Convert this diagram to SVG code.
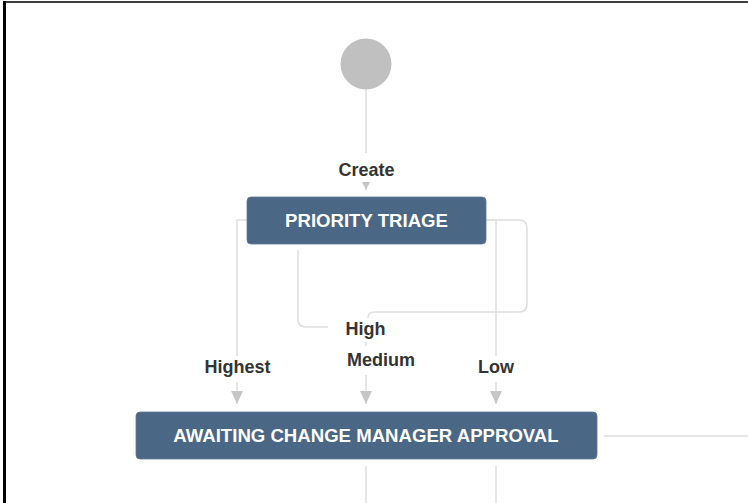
<svg xmlns="http://www.w3.org/2000/svg" width="748" height="503" viewBox="0 0 748 503">
<style>
.frame{stroke:#000;fill:none}
.box{fill:#4a6785;stroke:#5f7a96;stroke-width:0.8}
.boxtext{font-family:"Liberation Sans",Arial,sans-serif;font-weight:bold;font-size:18.6px;fill:#fff;text-anchor:middle}
.lbl{font-family:"Liberation Sans",Arial,sans-serif;font-weight:bold;font-size:18px;fill:#333;text-anchor:middle}
.edge{fill:none;stroke:#dedede;stroke-width:1.5}
</style>
<defs>
<marker id="arr" markerUnits="userSpaceOnUse" markerWidth="13" markerHeight="12" refX="12" refY="5.5" orient="auto" viewBox="0 0 12 11">
<path d="M0,0 L12,5.5 L0,11 z" fill="#c6c6c6"/>
</marker>
<marker id="arrs" markerUnits="userSpaceOnUse" markerWidth="8" markerHeight="8" refX="7" refY="3.5" orient="auto" viewBox="0 0 7 7">
<path d="M0,0 L7,3.5 L0,7 z" fill="#c6c6c6"/>
</marker>
</defs>
<rect width="748" height="503" fill="#fff"/>
<line class="frame" x1="3" y1="2" x2="748" y2="2" stroke-width="1.5"/>
<line class="frame" x1="4.5" y1="1" x2="4.5" y2="503" stroke-width="3"/>

<g id="connectors">
<line class="edge" x1="366" y1="89" x2="366" y2="153"/>
<line class="edge" x1="366" y1="183" x2="366" y2="190" marker-end="url(#arrs)"/>
<path class="edge" d="M247,220 H237 V356"/>
<line class="edge" x1="237" y1="382" x2="237" y2="404" marker-end="url(#arr)"/>
<path class="edge" d="M298,250 V319 Q298,327 306,327 H328"/>
<path class="edge" d="M486,220 H519 Q527,220 527,228 V304 Q527,312 519,312 H375 Q368,312 368,318"/>
<line class="edge" x1="366" y1="342" x2="366" y2="346"/>
<line class="edge" x1="366" y1="375" x2="366" y2="404" marker-end="url(#arr)"/>
<path class="edge" d="M486,220 H496 V356"/>
<line class="edge" x1="496" y1="382" x2="496" y2="404" marker-end="url(#arr)"/>
<line class="edge" x1="604" y1="436" x2="748" y2="436"/>
<line class="edge" x1="366" y1="466" x2="366" y2="503"/>
<line class="edge" x1="496" y1="466" x2="496" y2="503"/>
<text class="lbl" x="366.5" y="176">Create</text>
<text class="lbl" x="237.5" y="373">Highest</text>
<text class="lbl" x="365.5" y="335">High</text>
<text class="lbl" x="381" y="366">Medium</text>
<text class="lbl" x="496" y="373">Low</text>
</g>

<g id="start">
<circle cx="366" cy="64" r="25.5" fill="#c0c0c0"/>
</g>
<g id="priority-triage">
<rect class="box" x="247" y="197" width="239" height="47" rx="4"/>
<text class="boxtext" x="366.5" y="227">PRIORITY TRIAGE</text>
</g>
<g id="awaiting-change-manager-approval">
<rect class="box" x="136" y="412" width="461" height="47" rx="4"/>
<text class="boxtext" x="366" y="442">AWAITING CHANGE MANAGER APPROVAL</text>
</g>
</svg>
